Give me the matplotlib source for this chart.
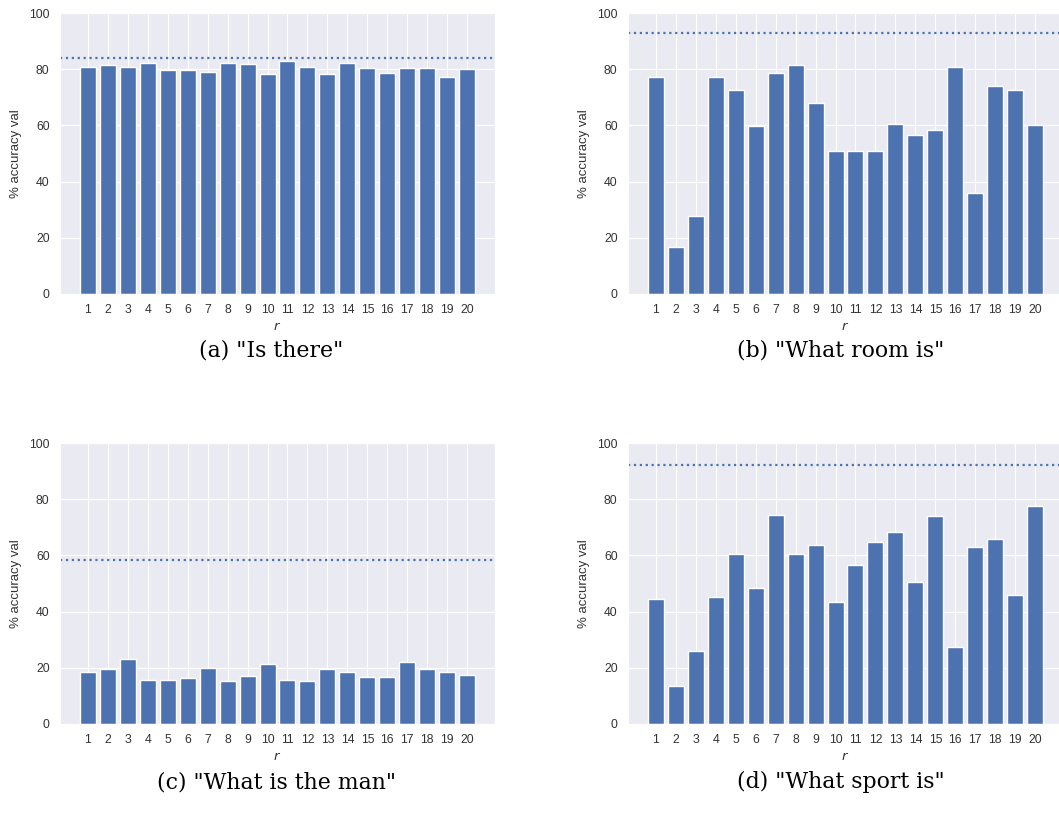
import numpy as np
import matplotlib
matplotlib.use("Agg")
import matplotlib.pyplot as plt
import seaborn as sns

# accuracy per r
r = list(range(1, 21))

acc_is_there = [80.9, 81.4, 80.9, 82.3, 79.6, 79.6, 79.0, 82.3, 81.9, 78.2,
                82.8, 80.9, 78.2, 82.3, 80.4, 78.6, 80.4, 80.4, 77.2, 80.0]
acc_what_room = [77.2, 16.6, 27.8, 77.2, 72.6, 59.7, 78.6, 81.4, 68.0, 50.8,
                 50.8, 50.8, 60.5, 56.5, 58.2, 80.9, 36.1, 74.0, 72.6, 60.1]
acc_what_man = [18.5, 19.5, 23.1, 15.8, 15.8, 16.3, 19.8, 15.3, 17.1, 21.2,
                15.8, 15.3, 19.5, 18.5, 16.6, 16.6, 22.2, 19.5, 18.5, 17.6]
acc_what_sport = [44.4, 13.4, 25.9, 45.3, 60.5, 48.5, 74.4, 60.5, 63.8, 43.4,
                  56.5, 64.6, 68.4, 50.4, 74.0, 27.3, 63.0, 65.7, 45.8, 77.7]

# dotted reference level per panel
baselines = [84.1, 93.0, 58.4, 92.2]

captions = ['(a) "Is there"', '(b) "What room is"',
            '(c) "What is the man"', '(d) "What sport is"']

sns.set_style("darkgrid")
plt.rcParams['font.family'] = ['Liberation Sans', 'DejaVu Sans']

fig = plt.figure(figsize=(10.59, 8.26), dpi=100)

W, H = 1059, 826
# axes boxes in pixels: left, top, right, bottom
boxes = [(60, 13, 495, 294), (628, 13, 1063, 294),
         (60, 443, 495, 724), (628, 443, 1063, 724)]
cap_pos = [(271, 350), (841, 350), (277, 782), (841, 782)]

data = [acc_is_there, acc_what_room, acc_what_man, acc_what_sport]
blue = "#4C72B0"

for i in range(4):
    l, t, rr, b = boxes[i]
    ax = fig.add_axes([l/W, 1 - b/H, (rr - l)/W, (b - t)/H])
    ax.bar(r, data[i], width=0.8, color=blue, edgecolor="white", linewidth=1)
    ax.axhline(baselines[i], color=blue, linestyle=":", linewidth=1.6)
    ax.set_ylim(0, 100)
    ax.set_yticks([0, 20, 40, 60, 80, 100])
    ax.set_xticks(r)
    ax.set_xticklabels([str(v) for v in r])
    ax.tick_params(labelsize=8.8, colors="#333333", pad=4)
    ax.set_xlabel("$r$", fontsize=9.5, color="#333333", labelpad=3)
    ax.set_ylabel("% accuracy val", fontsize=9.5, color="#333333", labelpad=5)
    cx, cy = cap_pos[i]
    fig.text(cx/W, 1 - cy/H, captions[i], ha="center", va="center",
             fontsize=15.8, family=["DejaVu Serif"], color="black")

plt.savefig("out.png", dpi=100)
